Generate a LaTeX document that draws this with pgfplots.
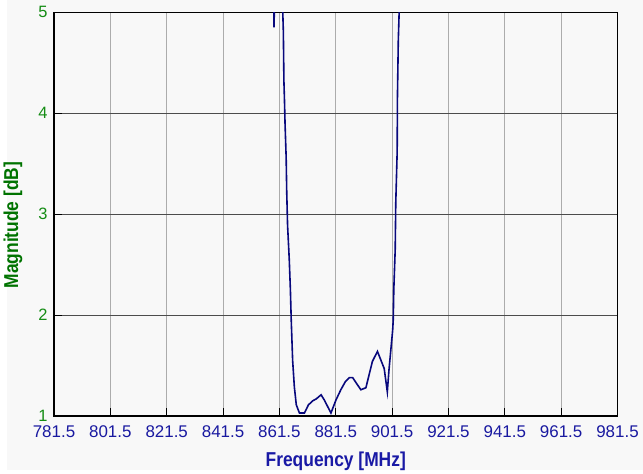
\documentclass[border=0pt]{standalone}
\usepackage{fontspec}
\setmainfont{Liberation Sans}
\usepackage{graphicx}
\usepackage{pgfplots}
\pgfplotsset{compat=1.18}
\definecolor{bgcol}{RGB}{248,248,248}
\definecolor{xblue}{RGB}{25,25,160}
\definecolor{ygreen}{RGB}{20,140,20}
\definecolor{lgreen}{RGB}{0,115,0}
\definecolor{lblue}{RGB}{25,25,165}
\definecolor{curve}{RGB}{8,8,125}
\begin{document}
\begin{tikzpicture}
\path[use as bounding box] (-54bp,-58bp) rectangle (589bp,416bp);
\fill[bgcol] (-47bp,-54bp) rectangle (589bp,416bp);
\begin{axis}[
  scale only axis,
  width=563.5bp, height=403.7bp,
  xmin=781.5, xmax=981.5, ymin=1, ymax=5,
  xtick={781.5,801.5,821.5,841.5,861.5,881.5,901.5,921.5,941.5,961.5,981.5},
  xticklabels={781.5,801.5,821.5,841.5,861.5,881.5,901.5,921.5,941.5,961.5,981.5},
  ytick={1,2,3,4,5},
  yticklabels={1,2,3,4,5},
  grid=major,
  major x grid style={color=gray!65, line width=1.1bp},
  major y grid style={color=black!70, line width=0.9bp},
  axis line style={black, line width=1.4bp},
  tick align=inside,
  xtick pos=lower, ytick pos=left,
  major tick length=8bp,
  tick style={black, line width=1bp},
  xticklabel style={font=\fontsize{17}{17}\selectfont, text=xblue},
  yticklabel style={font=\fontsize{16.5}{16.5}\selectfont, text=ygreen},
  xticklabel shift=6bp,
  yticklabel shift=3bp,
  xlabel={\scalebox{0.97}[1.12]{\fontsize{18}{18}\selectfont\bfseries Frequency [MHz]}},
  ylabel={\scalebox{0.97}[1.12]{\fontsize{18}{18}\selectfont\bfseries Magnitude [dB]}},
  xlabel style={at={(axis description cs:0.5,-0.111)}, anchor=center, text=lblue},
  ylabel style={at={(axis description cs:-0.0728,0.473)}, anchor=center, text=lgreen},
]
\addplot[curve, line width=1.6bp, mark=none] coordinates {
(859.2,5.6)
(859.6,4.85)
(860.0,5.6)
(861.5,7)
(862.6,5.1)
(862.7,5.0)
(862.9,4.81)
(863.1,4.32)
(863.3,4.13)
(863.5,3.90)
(863.9,3.56)
(864.1,3.22)
(864.4,2.89)
(865.0,2.55)
(865.4,2.25)
(865.7,1.95)
(866.2,1.55)
(866.8,1.29)
(867.5,1.11)
(868.6,1.03)
(870.4,1.03)
(871.8,1.11)
(873.3,1.15)
(874.6,1.17)
(876.3,1.21)
(877.4,1.16)
(879.8,1.03)
(881.6,1.16)
(883.3,1.26)
(884.9,1.34)
(886.3,1.38)
(887.5,1.38)
(890.4,1.26)
(892.2,1.28)
(894.5,1.54)
(896.3,1.64)
(898.7,1.47)
(899.8,1.24)
(900.4,1.46)
(901.7,1.85)
(901.9,1.95)
(902.1,2.25)
(902.6,2.65)
(902.8,3.11)
(903.3,3.62)
(903.4,4.17)
(903.7,4.72)
(904.0,5.0)
(904.3,5.6)
};
\end{axis}
\end{tikzpicture}
\end{document}
